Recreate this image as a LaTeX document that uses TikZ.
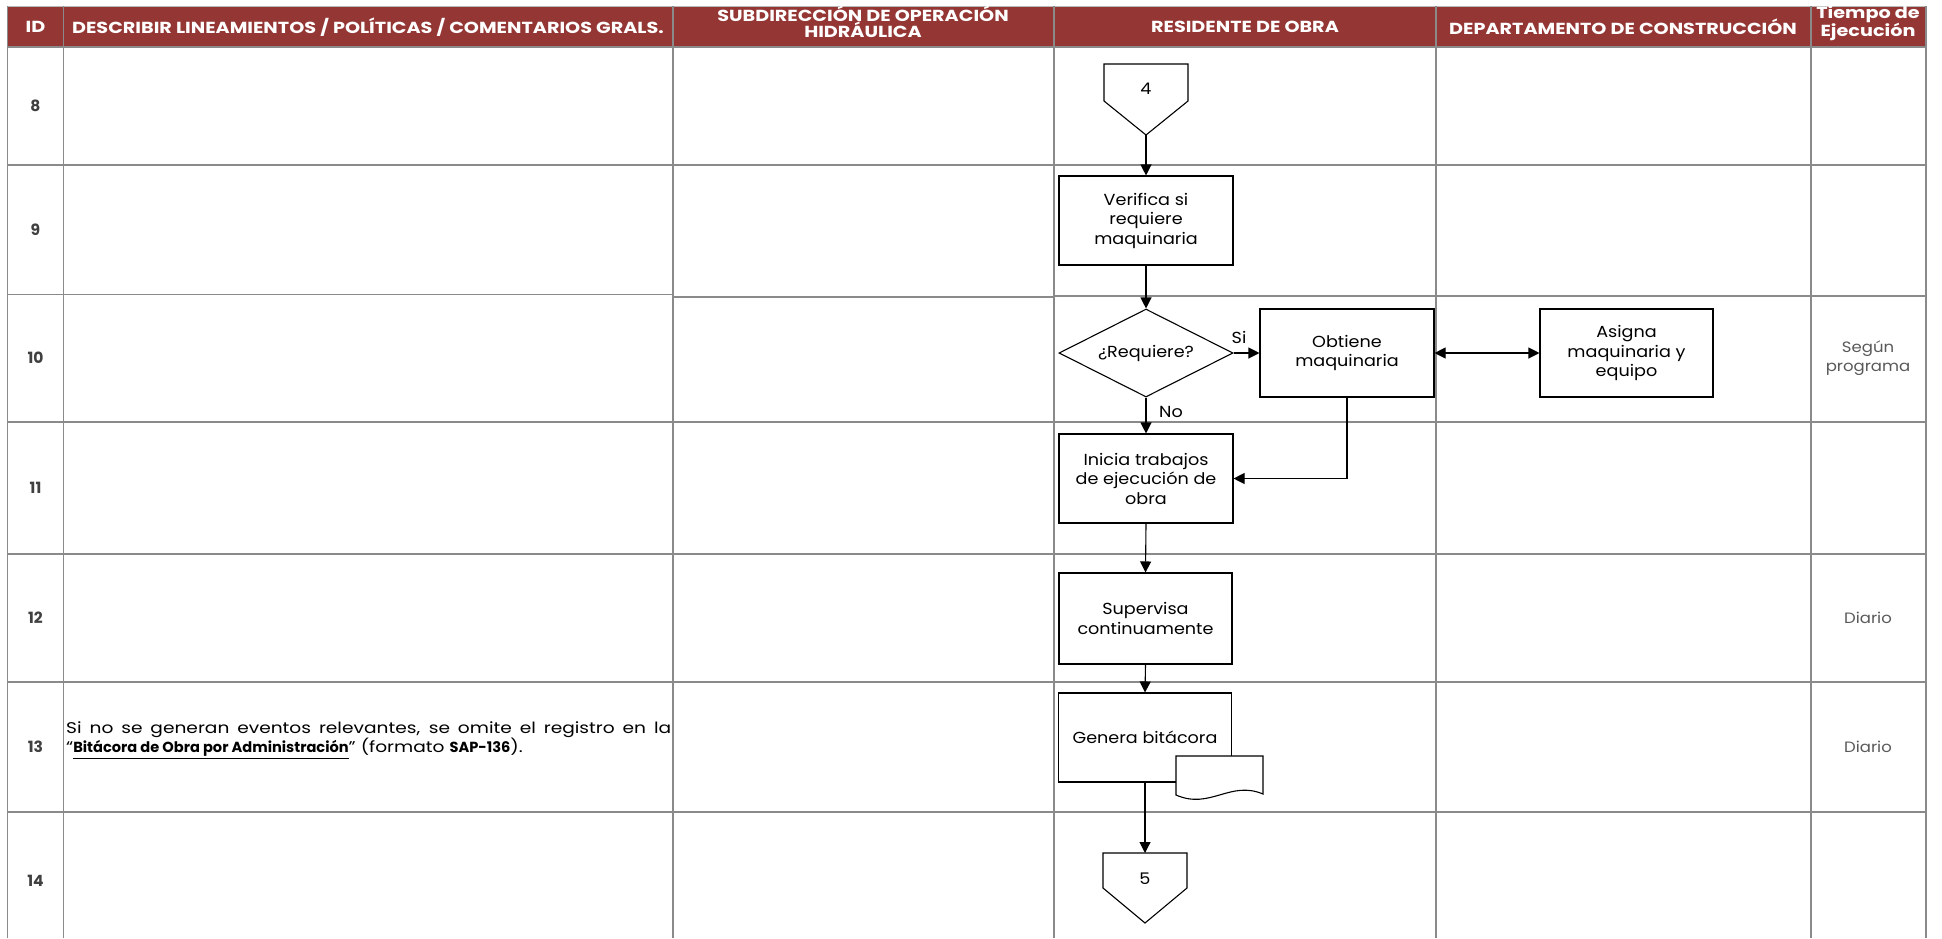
\documentclass[tikz,border=0pt]{standalone}
\usepackage{fontspec}
\setmainfont{Poppins}
\newfontfamily\hdrfont[FakeStretch=1.2]{Poppins}
\newfontfamily\bodyfont[FakeStretch=1.1]{Poppins}
\newfontfamily\comfont[FakeStretch=1.2]{Poppins}
\newfontfamily\plainfont{Poppins}
\usetikzlibrary{arrows.meta,shapes.geometric}
\definecolor{hdr}{HTML}{943634}
\definecolor{gridc}{HTML}{8A8A8A}
\definecolor{idc}{HTML}{404040}
\definecolor{tcol}{HTML}{595959}
\begin{document}
\begin{tikzpicture}[x=1pt,y=-1pt,
  gridline/.style={draw=gridc,line width=1.6pt},
  hdrtext/.style={text=white,font=\hdrfont\fontsize{16}{16}\selectfont\bfseries,align=center,inner sep=0},
  idtext/.style={text=idc,font=\plainfont\fontsize{15.5}{18}\selectfont\bfseries,inner sep=0},
  timetext/.style={text=tcol,font=\bodyfont\fontsize{15}{19}\selectfont,align=center,inner sep=0},
  procbox/.style={draw=black,line width=1.1pt,fill=white,rectangle,minimum width=174pt,minimum height=89pt,inner sep=0,align=center,font=\bodyfont\fontsize{16}{19.5}\selectfont},
  decbox/.style={draw=black,line width=1.1pt,diamond,aspect=2,minimum width=174pt,minimum height=88pt,inner sep=0,font=\bodyfont\fontsize{16}{19.5}\selectfont},
  lbl/.style={font=\bodyfont\fontsize{16}{19}\selectfont,inner sep=0},
  arr/.style={draw=black,line width=1.1pt,-{Triangle[length=11pt,width=11pt]}},
  darr/.style={draw=black,line width=1.1pt,{Triangle[length=11pt,width=11pt]}-{Triangle[length=11pt,width=11pt]}},
  shp/.style={draw=black,line width=1.1pt,fill=white}
]
\useasboundingbox (0,0) rectangle (1942,938);
% header
\fill[hdr] (7.5,6) rectangle (1926,47);
\draw[draw=gridc!60,line width=1pt] (7.5,6) -- (1926,6);
% vertical grid lines
\foreach \xx in {7.5,63.5,673,1054,1436,1811,1926}
  \draw[gridline] (\xx,6) -- (\xx,938);
% horizontal grid lines
\foreach \yy in {47,165,422,554,682,812}
  \draw[gridline] (7.5,\yy) -- (1926,\yy);
\draw[gridline] (7.5,294.5) -- (673,294.5);
\draw[gridline] (673,297) -- (1054,297);
\draw[gridline] (1054,296) -- (1926,296);
% header texts
\node[hdrtext] (hid) at (35.5,27) {ID};
\node[hdrtext] (hdesc) at (368,27) {DESCRIBIR LINEAMIENTOS / POLÍTICAS / COMENTARIOS GRALS.};
\node[hdrtext] (hsub) at (863,22) {SUBDIRECCIÓN DE OPERACIÓN\\HIDRÁULICA};
\node[hdrtext] (hres) at (1245,27) {RESIDENTE DE OBRA};
\node[hdrtext] (hdep) at (1623,27) {DEPARTAMENTO DE CONSTRUCCIÓN};
\node[hdrtext,font=\hdrfont\fontsize{16}{18}\selectfont\bfseries] (htie) at (1868,23) {Tiempo de\\Ejecución};
% ID numbers
\node[idtext] (id8) at (35.5,106) {8};
\node[idtext] (id9) at (35.5,230) {9};
\node[idtext] (id10) at (35.5,358) {10};
\node[idtext] (id11) at (35.5,488) {11};
\node[idtext] (id12) at (35.5,618) {12};
\node[idtext] (id13) at (35.5,747) {13};
\node[idtext] (id14) at (35.5,881) {14};
% comment row 13
\node[anchor=west,inner sep=0,text width=605pt,align=justify,font=\comfont\fontsize{15.5}{16.5}\selectfont,text=black] (com13) at (66,740)
  {Si no se generan eventos relevantes, se omite el registro en la\linebreak
   “{\plainfont\fontsize{14.6}{16.5}\selectfont\bfseries\underline{Bitácora de Obra por Administración}}” (formato {\plainfont\fontsize{14.6}{16.5}\selectfont\bfseries SAP-136}).};
% time column
\node[timetext] (t10) at (1868,358) {Según\\programa};
\node[timetext] (t12) at (1868,618) {Diario};
\node[timetext] (t13) at (1868,747) {Diario};
% off-page connector 4
\draw[shp] (1104,64) -- (1188,64) -- (1188,101) -- (1146,135) -- (1104,101) -- cycle;
\coordinate (c4tip) at (1146,135);
\node[lbl] (c4) at (1146,89) {4};
% process boxes
\node[procbox] (verif) at (1146,220.5) {Verifica si\\requiere\\maquinaria};
\node[decbox] (dec) at (1146,353) {¿Requiere?};
\node[procbox,minimum height=88pt] (obt) at (1347,353) {Obtiene\\maquinaria};
\node[procbox,minimum width=173pt,minimum height=88pt] (asig) at (1626.5,353) {Asigna\\maquinaria y\\equipo};
\node[procbox] (ini) at (1146,478.5) {Inicia trabajos\\de ejecución de\\obra};
\node[procbox,minimum width=173pt,minimum height=91pt] (sup) at (1145.5,618.5) {Supervisa\\continuamente};
\node[procbox,minimum width=173pt] (gen) at (1145,737.5) {Genera bitácora};
% document shape
\draw[shp] (1176,795) -- (1176,756) -- (1263,756) -- (1263,794)
   .. controls (1230,780) and (1210,810) .. cycle;
% off-page connector 5
\draw[shp] (1103,853) -- (1187,853) -- (1187,888) -- (1145,923) -- (1103,888) -- cycle;
\coordinate (c5top) at (1145,853);
\node[lbl] (c5) at (1145,879) {5};
% connectors
\draw[arr] (c4tip) -- (verif.north);
\draw[arr] (verif.south) -- (dec.north);
\draw[arr] (dec.east) -- (obt.west);
\draw[arr] (dec.south) -- (ini.north);
\draw[arr] (obt.south) |- (ini.east);
\draw[darr] (obt.east) -- (asig.west);
\draw[arr] (ini.south) -- (sup.north);
\draw[arr] (sup.south) -- (gen.north);
\draw[arr] (gen.south) -- (c5top);
\node[lbl] (lsi) at (1239,337) {Si};
\node[lbl] (lno) at (1171,412) {No};
\end{tikzpicture}
\end{document}
